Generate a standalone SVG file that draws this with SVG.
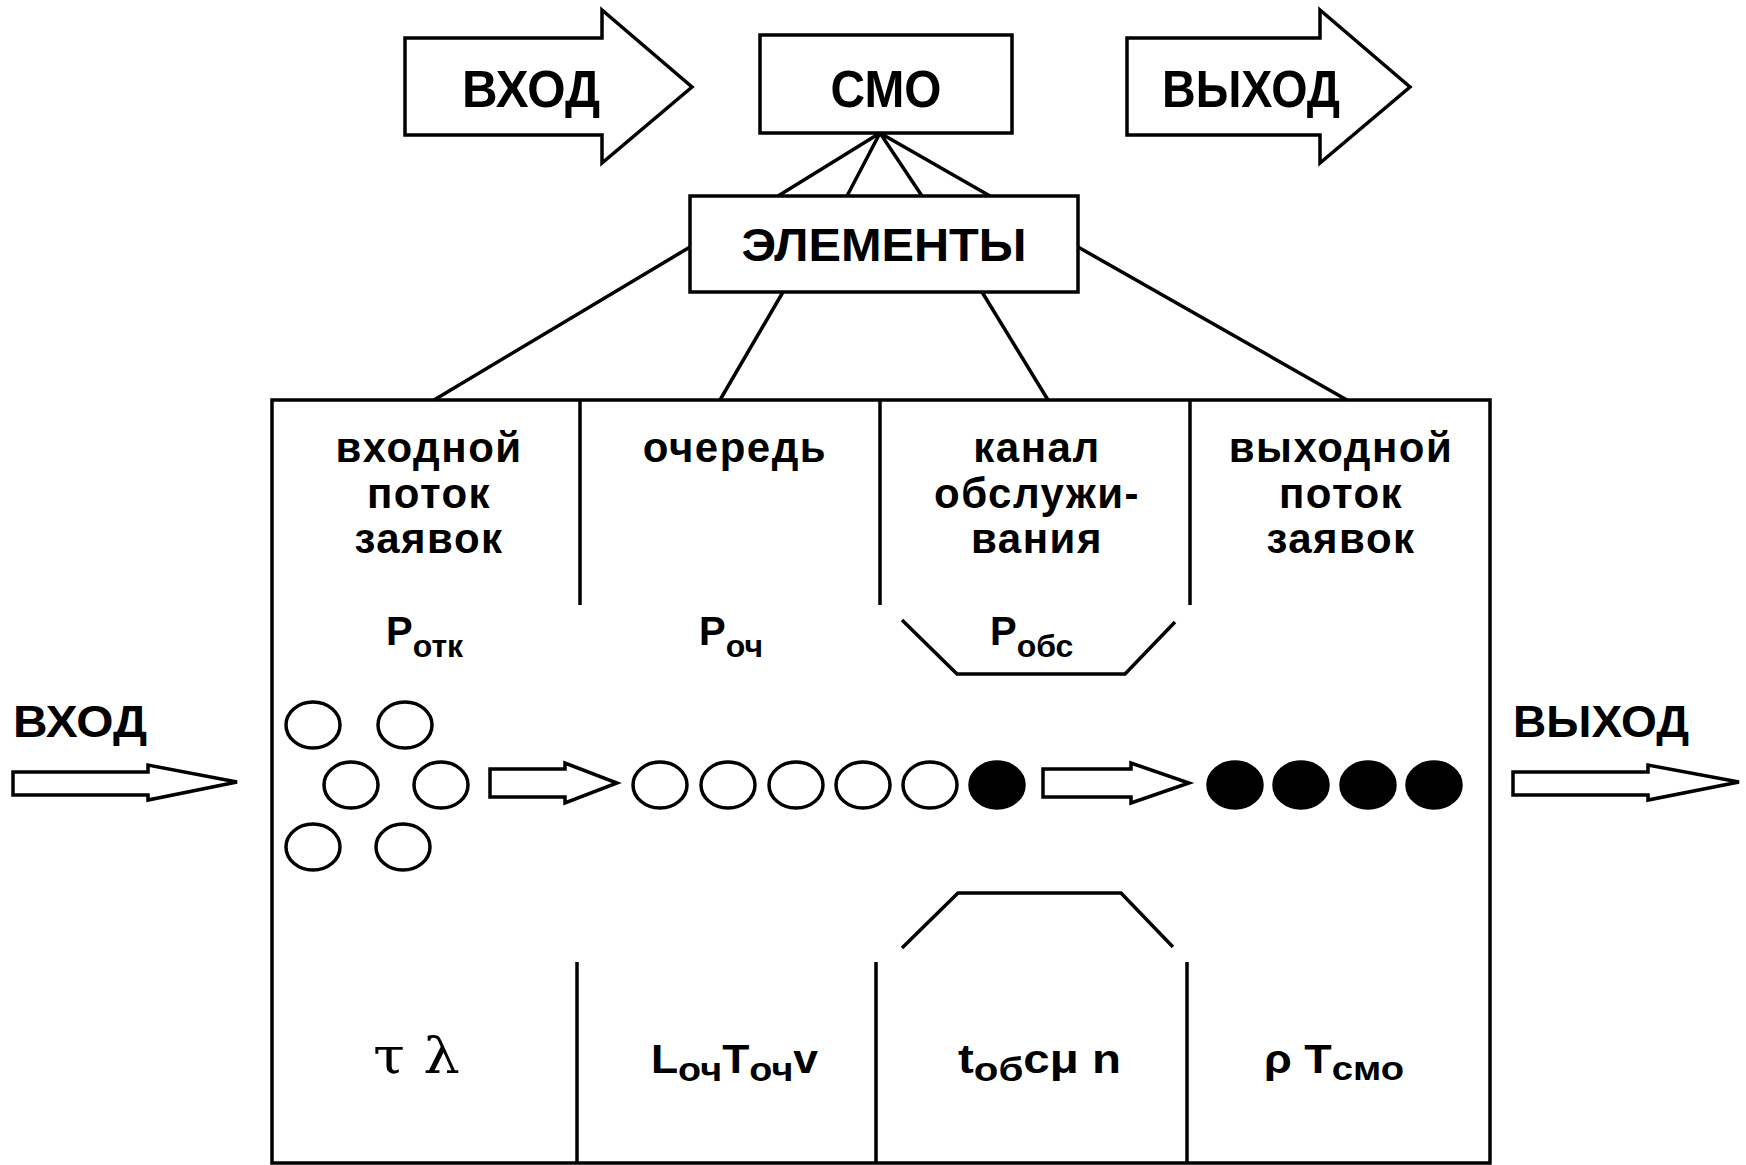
<svg xmlns="http://www.w3.org/2000/svg" width="1746" height="1165" viewBox="0 0 1746 1165">
<style>
.ln{fill:none;stroke:#000;stroke-width:3.5;stroke-linejoin:miter}
.bx{fill:#fff;stroke:#000;stroke-width:3.5}
.t{font-family:"Liberation Sans",Arial,sans-serif;font-weight:bold;fill:#000}
.big{font-size:52px;text-anchor:middle}
.mid{font-size:42px;text-anchor:middle;letter-spacing:1.5px}
.p{font-size:40px}
.ps{font-size:32px}
.fm{font-size:40px}
.fs{font-size:34px}
.g{font-family:"DejaVu Serif","Liberation Serif",serif;fill:#000}
.oc{fill:#fff;stroke:#000;stroke-width:3.5}
.fc{fill:#000;stroke:#000;stroke-width:3.5}
</style>
<rect width="1746" height="1165" fill="#fff"/>

<g id="top-input">
<path class="bx" d="M405,38 H602 V10 L692,87 L602,163 V135 H405 Z"/>
<text class="t big" x="531" y="107" textLength="138" lengthAdjust="spacingAndGlyphs">ВХОД</text>
</g>
<g id="smo">
<rect class="bx" x="760" y="35" width="252" height="98"/>
<text class="t big" x="886" y="107" textLength="111" lengthAdjust="spacingAndGlyphs">СМО</text>
</g>
<g id="top-output">
<path class="bx" d="M1127,38 H1320 V10 L1410,87 L1320,163 V135 H1127 Z"/>
<text class="t big" x="1251" y="107" textLength="178" lengthAdjust="spacingAndGlyphs">ВЫХОД</text>
</g>

<g id="connectors">
<path class="ln" d="M880,133 L778,196 M880,133 L847,196 M880,133 L922,196 M880,133 L990,196"/>
<path class="ln" d="M690,247 L434,400 M783,292 L720,400 M982,292 L1048,400 M1078,247 L1347,400"/>
</g>

<g id="elements">
<rect class="bx" x="690" y="196" width="388" height="96"/>
<text class="t" x="884" y="261" font-size="46" text-anchor="middle" textLength="285" lengthAdjust="spacingAndGlyphs">ЭЛЕМЕНТЫ</text>
</g>

<g id="system-box">
<rect class="ln" x="272" y="400" width="1218" height="763"/>
<path class="ln" d="M580,400 V605 M880,400 V605 M1190,400 V605"/>
<path class="ln" d="M577,962 V1163 M876,962 V1163 M1187,962 V1163"/>
<path class="ln" d="M902,620 L957,674 L1125,674 L1175,622"/>
<path class="ln" d="M902,948 L958,893 L1121,893 L1173,947"/>
</g>

<g id="col-input-flow">
<text class="t mid" x="429"><tspan x="429" y="462">входной</tspan><tspan x="429" y="508">поток</tspan><tspan x="429" y="553">заявок</tspan></text>
<text class="t p" x="386" y="645">P<tspan class="ps" dy="12">отк</tspan></text>
<text class="g" font-size="50" x="373" y="1073" textLength="87" lengthAdjust="spacingAndGlyphs">τ λ</text>
</g>
<g id="col-queue">
<text class="t mid" x="735" y="462">очередь</text>
<text class="t p" x="699" y="645">P<tspan class="ps" dy="12">оч</tspan></text>
<text class="t fm" x="651" y="1073" textLength="167" lengthAdjust="spacingAndGlyphs">L<tspan class="fs" dy="8">оч</tspan><tspan dy="-8">T</tspan><tspan class="fs" dy="8">оч</tspan><tspan dy="-8">v</tspan></text>
</g>
<g id="col-channel">
<text class="t mid" x="1037"><tspan x="1037" y="462">канал</tspan><tspan x="1037" y="508">обслужи-</tspan><tspan x="1037" y="553">вания</tspan></text>
<text class="t p" x="990" y="645">P<tspan class="ps" dy="12">обс</tspan></text>
<text class="t fm" x="958" y="1073" textLength="163" lengthAdjust="spacingAndGlyphs">t<tspan class="fs" dy="8">об</tspan><tspan dy="-8">cμ n</tspan></text>
</g>
<g id="col-output-flow">
<text class="t mid" x="1341"><tspan x="1341" y="462">выходной</tspan><tspan x="1341" y="508">поток</tspan><tspan x="1341" y="553">заявок</tspan></text>
<text class="t fm" x="1264" y="1073" textLength="140" lengthAdjust="spacingAndGlyphs">ρ T<tspan class="fs" dy="7">смо</tspan></text>
</g>

<g id="side-input">
<text class="t" x="13" y="737" font-size="44" textLength="134" lengthAdjust="spacingAndGlyphs">ВХОД</text>
<path class="bx" d="M13,772 H148 V765 L237,782 L148,800 V795 H13 Z"/>
</g>
<g id="side-output">
<text class="t" x="1513" y="737" font-size="44" textLength="176" lengthAdjust="spacingAndGlyphs">ВЫХОД</text>
<path class="bx" d="M1513,772 H1648 V765 L1739,782 L1648,800 V795 H1513 Z"/>
</g>

<g id="requests">
<ellipse class="oc" cx="313" cy="725" rx="27" ry="23"/>
<ellipse class="oc" cx="405" cy="725" rx="27" ry="23"/>
<ellipse class="oc" cx="351" cy="785" rx="27" ry="23"/>
<ellipse class="oc" cx="441" cy="785" rx="27" ry="23"/>
<ellipse class="oc" cx="313" cy="847" rx="27" ry="23"/>
<ellipse class="oc" cx="403" cy="847" rx="27" ry="23"/>
<path class="bx" d="M490,769 H565 V763 L617,783 L565,803 V797 H490 Z"/>
<ellipse class="oc" cx="660" cy="785" rx="27" ry="23"/>
<ellipse class="oc" cx="728" cy="785" rx="27" ry="23"/>
<ellipse class="oc" cx="796" cy="785" rx="27" ry="23"/>
<ellipse class="oc" cx="863" cy="785" rx="27" ry="23"/>
<ellipse class="oc" cx="930" cy="785" rx="27" ry="23"/>
<ellipse class="fc" cx="997" cy="785" rx="27" ry="23"/>
<path class="bx" d="M1043,769 H1131 V763 L1189,783 L1131,803 V797 H1043 Z"/>
<ellipse class="fc" cx="1235" cy="785" rx="27" ry="23"/>
<ellipse class="fc" cx="1301" cy="785" rx="27" ry="23"/>
<ellipse class="fc" cx="1368" cy="785" rx="27" ry="23"/>
<ellipse class="fc" cx="1434" cy="785" rx="27" ry="23"/>
</g>
</svg>
